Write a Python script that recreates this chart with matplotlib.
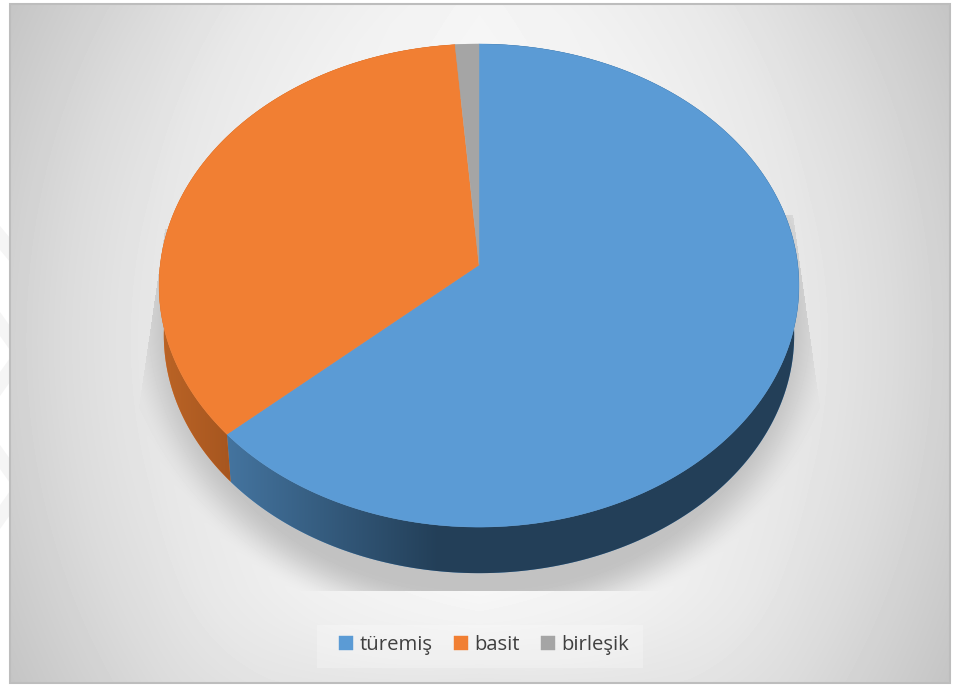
import numpy as np
import matplotlib
matplotlib.use('Agg')
import matplotlib.pyplot as plt
from matplotlib.patches import Polygon, Rectangle

# slices, clockwise from the top
labels = ['türemiş', 'basit', 'birleşik']
values = [63.4, 35.3, 1.3]
colors = ['#5b9bd5', '#f17f33', '#a5a5a5']

W, H = 956, 686
apexX, apexY = 479, 265     # where the slices meet
a, b, k = 318.8, 239.8, 0.085   # perspective of the top disc
wallScale, wallDrop = 0.985, 50  # lower rim of the disc

def rim(t, scale=1.0, drop=0):
    # t in degrees clockwise from top -> pixel position
    t = np.radians(t)
    X, Y = np.sin(t), np.cos(t)
    u = a*X/(1+k*Y)
    v = b*Y/(1+k*Y)
    return np.column_stack((apexX+scale*u, apexY-scale*v+drop))

fig = plt.figure(figsize=(W/100, H/100), dpi=100)
ax = fig.add_axes([0, 0, 1, 1])
ax.set_xlim(0, W)
ax.set_ylim(H, 0)
ax.axis('off')

# faint watermark left of the frame
for y0, d in [(226, 12), (312, 14), (372, -14), (445, 14), (505, -14)]:
    ax.add_patch(Polygon([(0, y0), (10, y0+d), (10, y0+d+24), (0, y0+24)], fc='#f5f5f5', ec='none'))

# background gradient + shadow
xx, yy = np.meshgrid(np.arange(10, 950), np.arange(4, 683))
r = np.sqrt(((xx-479)/470.0)**2+((yy-340)/600.0)**2)
bg = np.interp(r, [0, 0.56, 0.72, 0.88, 1.0, 1.15], [0.95, 0.92, 0.9, 0.86, 0.82, 0.77])
# lighter band under the pie
band = np.clip(1-(yy-591)/90.0, 0, 1)*np.clip(1-np.abs(xx-479)/330.0, 0, 1)
bg = bg+0.04*band-0.02*np.clip((yy-620)/60.0, 0, 1)*np.clip(1-np.abs(xx-479)/300.0, 0, 1)

er = np.sqrt(((xx-479)/345.0)**2+((yy-320)/305.0)**2)
fade = np.clip((1.04-er)/0.16, 0, 1)
fade = fade*fade*(3-2*fade)
leftEdge = 160-22*(yy-260)/150.0
rightEdge = 799+21*(yy-260)/150.0
topEdge = np.where(xx < 479, 228, 214)
fade = np.where((xx > leftEdge) & (xx < rightEdge) & (yy > topEdge) & (yy < 591), fade, 0)
bg = bg*(1-fade)+0.76*fade
ax.imshow(bg, extent=(10, 950, 683, 4), cmap='gray', vmin=0, vmax=1, aspect='auto',
          interpolation='bilinear', zorder=1)
ax.add_patch(Rectangle((10, 4), 940, 679, fc='none', ec='#bdbdbd', lw=1.5, zorder=2))

edges = np.concatenate(([0], np.cumsum(values)))/np.sum(values)*360

# side wall
wallColors = [('#44749f', '#233f58'), ('#bb6426', '#a5551f'), ('#6f6f6f', '#6f6f6f')]
for i in range(3):
    t = np.linspace(edges[i], edges[i+1], 240)
    pts = np.vstack((rim(t), rim(t[::-1], wallScale, wallDrop)))
    poly = Polygon(pts, fc=colors[i], ec='none', zorder=3)
    ax.add_patch(poly)
    if i == 2:
        continue
    if i == 0:
        # light at the left end, dark from the middle on
        g = np.clip((np.arange(0, W)-228)/210.0, 0, 1)
    else:
        g = np.clip((np.arange(0, W)-160)/75.0, 0, 1)
    c0 = np.array(matplotlib.colors.to_rgb(wallColors[i][0]))
    c1 = np.array(matplotlib.colors.to_rgb(wallColors[i][1]))
    img = (c0[None, :]*(1-g[:, None])+c1[None, :]*g[:, None])[None, :, :]
    im = ax.imshow(img, extent=(0, W, H, 0), aspect='auto', zorder=3.5)
    im.set_clip_path(poly)
ax.set_xlim(0, W)
ax.set_ylim(H, 0)

# top of the disc
handles = []
for i in range(3):
    t = np.linspace(edges[i], edges[i+1], 360)
    pts = np.vstack(([[apexX, apexY]], rim(t)))
    p = Polygon(pts, fc=colors[i], ec=colors[i], lw=0.3, zorder=4)
    ax.add_patch(p)
    handles.append(p)

# light box behind the legend
ax.add_patch(Rectangle((317, 625), 326, 43, fc='white', ec='none', alpha=0.25, zorder=4.5))
leg = ax.legend(handles, labels, loc='center', bbox_to_anchor=(484/W, 1-645/H), ncol=3,
                frameon=False, handlelength=0.7, handleheight=0.7, handletextpad=0.3,
                columnspacing=1.05, labelcolor='#404040',
                prop={'family': 'Open Sans', 'size': 14.6})
leg.set_zorder(5)

fig.savefig('out.png', dpi=100)
